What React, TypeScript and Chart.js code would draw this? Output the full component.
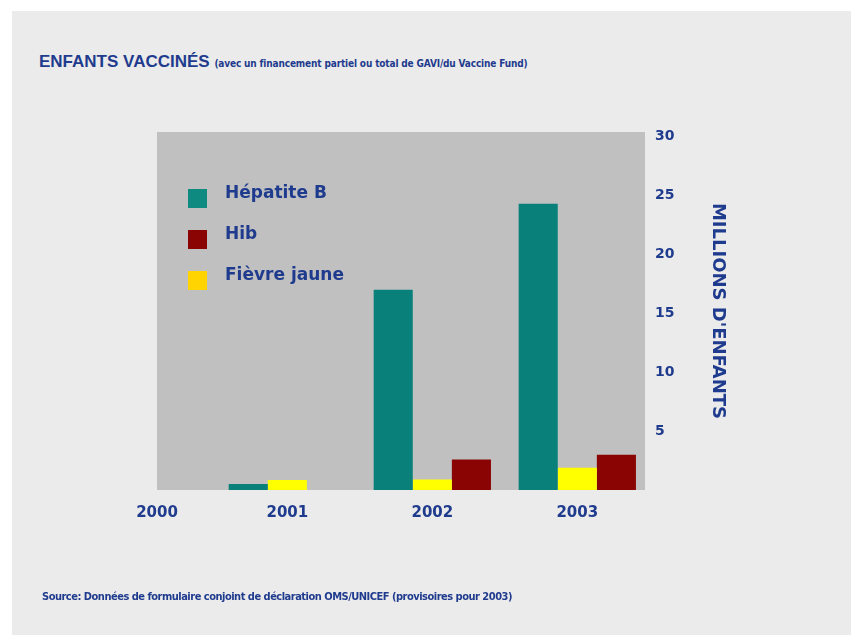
import React, { useEffect, useRef } from 'react';
import { Chart, registerables } from 'chart.js';

Chart.register(...registerables);

// ---- Data ----
const years = [2000, 2001, 2002, 2003];
const hepatiteB = [null, 0.5, 17.0, 24.3];
const fievreJaune = [null, 0.85, 0.9, 1.9];
const hib = [null, 0, 2.6, 3.0];
const seriesLabels = ['Hépatite B', 'Fièvre jaune', 'Hib'];
const legendOrder = ['Hépatite B', 'Hib', 'Fièvre jaune'];
const yMax = 30;
const yStep = 5;

// ---- Styles ----
const BLUE = '#1f3b8e';
const BAR_COLORS: Record<string, string> = {
  'Hépatite B': '#0a807b',
  'Fièvre jaune': '#ffff00',
  Hib: '#8a0404',
};
const LEGEND_COLORS: Record<string, string> = {
  'Hépatite B': '#0f8a80',
  'Fièvre jaune': '#ffd400',
  Hib: '#8a0404',
};
const FONT = 'DejaVu Sans';

const plotBg = {
  id: 'plotBg',
  beforeDraw(chart: any) {
    const { ctx, chartArea: a } = chart;
    ctx.save();
    ctx.fillStyle = '#c0c0c0';
    ctx.fillRect(a.left, a.top, a.right - a.left, a.bottom - a.top);
    ctx.restore();
  },
};

const innerLegend = {
  id: 'innerLegend',
  afterDatasetsDraw(chart: any) {
    const { ctx, chartArea: a } = chart;
    ctx.save();
    ctx.font = `bold 17px "${FONT}"`;
    ctx.textBaseline = 'middle';
    ctx.textAlign = 'left';
    legendOrder.forEach((name, i) => {
      const cy = a.top + 66 + i * 41;
      ctx.fillStyle = LEGEND_COLORS[name];
      ctx.fillRect(a.left + 31, cy - 9, 19, 19);
      ctx.fillStyle = BLUE;
      ctx.fillText(name, a.left + 68, cy - 4);
    });
    ctx.restore();
  },
};

const seriesValues = [hepatiteB, fievreJaune, hib];

export default function App() {
  const ref = useRef<HTMLCanvasElement | null>(null);

  useEffect(() => {
    if (!ref.current) return;
    const chart = new Chart(ref.current, {
      type: 'bar',
      data: {
        datasets: seriesLabels.map((label, si) => ({
          label,
          data: years.map((yr, i) => ({ x: yr, y: seriesValues[si][i] })) as any,
          backgroundColor: BAR_COLORS[label],
          borderWidth: 0,
          barPercentage: 1,
          categoryPercentage: 0.9,
        })),
      },
      options: {
        responsive: false,
        animation: false,
        devicePixelRatio: 1,
        layout: { padding: { left: 157, top: 132, right: 119, bottom: 105 } },
        plugins: {
          legend: { display: false },
          tooltip: { enabled: false },
          title: { display: false },
        },
        scales: {
          x: {
            type: 'linear',
            position: 'bottom',
            min: years[0] + 0.101,
            max: years[years.length - 1] + 0.467,
            offset: false,
            grid: { display: false, drawTicks: false },
            border: { display: false },
            afterBuildTicks: (s: any) => {
              s.ticks = years.map((yr) => ({ value: Math.max(yr, s.min) }));
            },
            ticks: {
              autoSkip: false,
              maxRotation: 0,
              padding: 14,
              color: BLUE,
              font: { family: FONT, weight: 'bold', size: 15 },
              callback: (v: any) => String(Math.floor(v)),
            },
            afterFit: (s: any) => {
              s.height = 40;
            },
          },
          y: {
            type: 'linear',
            position: 'right',
            min: 0,
            max: yMax + 0.4,
            grid: { display: false, drawTicks: false },
            border: { display: false },
            ticks: {
              stepSize: yStep,
              includeBounds: false,
              padding: 10,
              color: BLUE,
              font: { family: FONT, weight: 'bold', size: 14 },
              callback: (v: any) => (v === 0 ? '' : String(v)),
            },
            title: {
              display: true,
              text: "MILLIONS D'ENFANTS",
              color: BLUE,
              font: { family: FONT, weight: 'bold', size: 18 },
              padding: { top: 4, bottom: 0 },
            },
            afterFit: (s: any) => {
              s.width = 87;
            },
          },
        },
      },
      plugins: [plotBg, innerLegend],
    });
    return () => chart.destroy();
  }, []);

  return (
    <div
      style={{
        position: 'absolute',
        left: 0,
        top: 0,
        width: 851,
        height: 635,
        background: '#ffffff',
        overflow: 'hidden',
      }}
    >
      <div
        style={{
          position: 'absolute',
          left: 12,
          top: 11,
          width: 839,
          height: 624,
          background: '#ebebeb',
        }}
      />
      <div
        style={{
          position: 'absolute',
          left: 39,
          top: 53,
          whiteSpace: 'nowrap',
          color: BLUE,
          lineHeight: 1,
          fontFamily: '"Liberation Sans", Arial, sans-serif',
          fontWeight: 'bold',
          fontSize: 17,
        }}
      >
        ENFANTS VACCINÉS{' '}
        <span
          style={{
            fontFamily: '"Liberation Sans Narrow", "DejaVu Sans Condensed", sans-serif',
            fontSize: 10,
            letterSpacing: '-0.15px',
          }}
        >
          (avec un financement partiel ou total de GAVI/du Vaccine Fund)
        </span>
      </div>
      <canvas
        ref={ref}
        width={851}
        height={635}
        style={{ position: 'absolute', left: 0, top: 0, width: 851, height: 635 }}
      />
      <div
        style={{
          position: 'absolute',
          left: 42,
          top: 591,
          whiteSpace: 'nowrap',
          color: BLUE,
          lineHeight: 1,
          fontFamily: '"Liberation Sans Narrow", "DejaVu Sans Condensed", sans-serif',
          fontWeight: 'bold',
          fontSize: 11,
          letterSpacing: '-0.5px',
        }}
      >
        Source: Données de formulaire conjoint de déclaration OMS/UNICEF (provisoires pour 2003)
      </div>
    </div>
  );
}
